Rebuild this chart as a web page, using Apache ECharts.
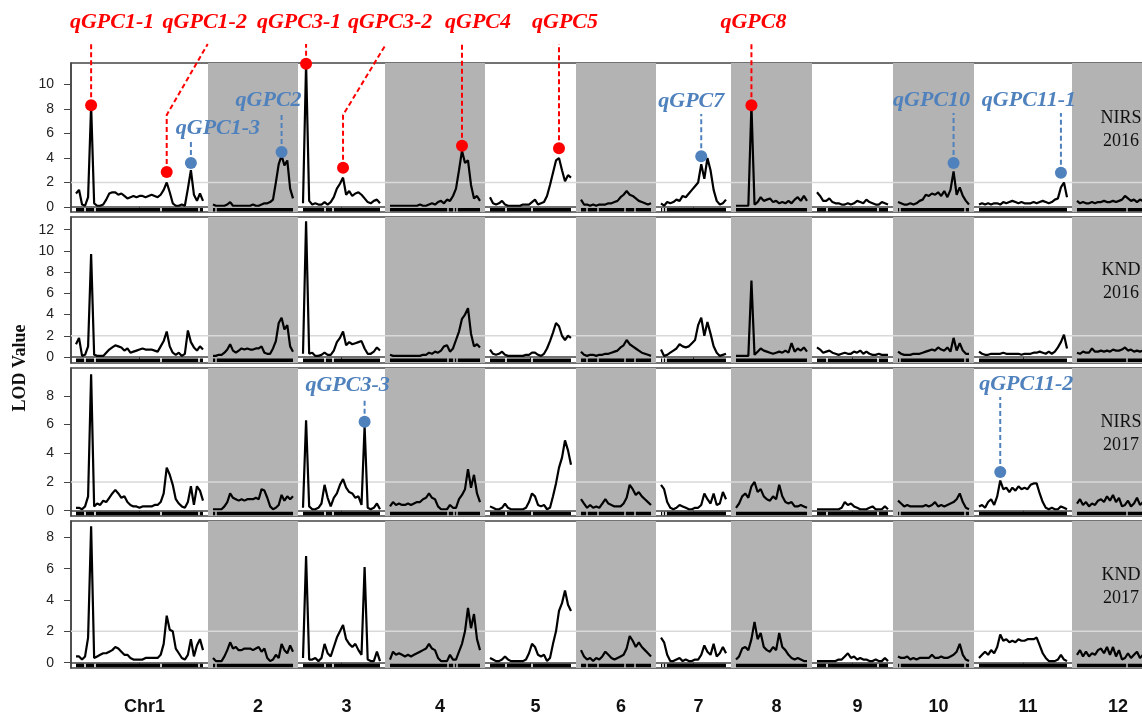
<!DOCTYPE html>
<html lang="en">
<head>
<meta charset="UTF-8">
<title>GPC QTL LOD profile</title>
<script src="https://cdn.jsdelivr.net/npm/echarts@6/dist/echarts.min.js"></script>
<style>
  html, body { margin: 0; padding: 0; background: #fff; }
  #main { width: 1142px; height: 718px; }
</style>
</head>
<body>
<div id="main"></div>
<script>
// linkage groups (span of markers, cM) and their axis labels
var chrNames = ['Chr1', '2', '3', '4', '5', '6', '7', '8', '9', '10', '11', '12'];
var chrLength = [127, 80, 77, 90, 81, 70, 65, 71, 71, 71, 88, 72];
var chrGap = 10;
// marker-free stretches inside each chromosome (cM from chromosome start)
var rugBreaks = [[9, 19, 85, 123], [3], [22, 30], [58, 64, 67], [16, 42], [6, 17, 44, 54],
                 [2, 5], [], [10, 61], [2, 67], [], [50]];

// environments, one panel each
var envNames = ['NIRS\n2016', 'KND\n2016', 'NIRS\n2017', 'KND\n2017'];
var lodMin = [-0.41, -0.57, -0.37, -0.34];
var lodMax = [11.76, 13.2, 9.94, 9.04];
var lodTicks = [[0, 2, 4, 6, 8, 10], [0, 2, 4, 6, 8, 10, 12], [0, 2, 4, 6, 8], [0, 2, 4, 6, 8]];
var lodThreshold = 2;

// LOD scan, one list per chromosome, markers evenly spread over the chromosome
var lodNirs2016 = [
  [1.1,1.4,0.2,0.1,0.8,8.3,0.3,0.1,0.1,0.2,0.6,1.1,1.2,1.2,1.0,1.1,0.9,0.7,0.8,0.9,0.8,0.9,0.9,0.8,0.9,1.0,0.9,0.8,1.0,1.4,2.0,1.2,0.3,0.1,0.1,0.2,0.1,1.5,3.0,1.0,0.5,1.1,0.5],
  [0.2,0.1,0.1,0.1,0.1,0.2,0.4,0.1,0.1,0.1,0.1,0.1,0.1,0.1,0.2,0.1,0.1,0.2,0.3,0.3,0.4,0.6,2.0,3.5,4.2,3.4,3.8,1.5,0.7],
  [0.3,11.7,0.5,0.2,0.3,0.2,0.2,0.4,0.2,0.4,0.8,1.5,1.9,2.4,1.0,1.3,0.9,1.1,1.2,1.0,0.7,0.4,0.3,0.5,0.6,0.3],
  [0.1,0.1,0.1,0.1,0.1,0.1,0.1,0.1,0.1,0.1,0.2,0.1,0.1,0.2,0.3,0.2,0.4,0.5,0.3,0.6,0.5,0.9,1.5,3.0,4.6,3.6,3.8,1.8,0.7,0.9,0.5],
  [0.8,0.3,0.2,0.3,0.5,0.2,0.1,0.1,0.1,0.1,0.1,0.2,0.2,0.2,0.4,0.6,0.2,0.3,0.4,0.9,1.8,2.8,3.8,4.0,3.0,2.1,2.6,2.4],
  [0.6,0.2,0.2,0.1,0.2,0.1,0.2,0.2,0.2,0.3,0.3,0.4,0.5,0.8,1.0,1.3,1.0,0.9,0.7,0.5,0.4,0.3,0.2,0.3],
  [0.3,0.1,0.4,0.3,0.4,0.6,0.5,0.9,0.8,1.1,1.4,1.7,2.0,3.5,2.3,4.0,3.0,1.4,0.5,0.2,0.3,0.6],
  [0.1,0.1,0.1,0.1,0.1,8.3,0.2,0.4,0.8,0.5,0.6,0.7,0.4,0.5,0.3,0.4,0.3,0.5,0.3,0.6,0.8,0.5,0.9,0.5],
  [1.2,0.9,0.5,0.5,0.7,0.4,0.3,0.3,0.2,0.2,0.3,0.2,0.3,0.5,0.4,0.3,0.6,0.4,0.3,0.2,0.2,0.4,0.3,0.2],
  [0.4,0.3,0.2,0.2,0.3,0.2,0.3,0.5,0.6,1.0,0.9,1.1,1.0,1.2,0.9,1.3,0.8,1.4,2.9,1.0,1.6,0.9,0.5,0.2],
  [0.2,0.3,0.2,0.3,0.2,0.3,0.3,0.2,0.4,0.3,0.4,0.5,0.4,0.3,0.4,0.3,0.3,0.3,0.4,0.3,0.4,0.5,0.4,0.3,0.4,0.6,0.7,1.6,2.0,0.8],
  [0.5,0.3,0.4,0.3,0.3,0.4,0.3,0.4,0.4,0.5,0.4,0.4,0.5,0.4,0.5,0.6,0.9,0.7,0.5,0.6,0.4,0.6,0.5,0.4,0.4]
];
var lodKnd2016 = [
  [1.2,1.8,0.1,0.2,1.0,9.7,0.2,0.1,0.1,0.1,0.4,0.7,0.9,1.1,1.0,0.9,0.6,0.8,0.4,0.5,0.6,0.7,0.8,0.7,0.7,0.7,0.6,0.5,1.0,1.5,2.4,1.0,0.4,0.2,0.4,0.1,0.3,2.5,1.4,0.9,0.6,1.0,0.7],
  [0.1,0.1,0.2,0.2,0.4,0.7,1.2,0.6,0.4,0.6,0.8,0.7,0.8,0.7,0.7,0.8,0.8,1.0,0.4,0.3,0.3,0.8,1.5,3.2,3.7,2.6,3.0,1.0,0.5],
  [0.3,12.8,0.3,0.4,0.1,0.1,0.2,0.4,0.2,0.2,0.6,1.4,1.8,2.4,1.1,1.4,1.2,1.3,1.4,1.5,0.8,0.3,0.3,0.5,0.9,0.6],
  [0.2,0.1,0.1,0.1,0.1,0.1,0.1,0.1,0.1,0.1,0.1,0.2,0.2,0.4,0.3,0.5,0.4,0.6,1.0,1.1,0.5,0.8,1.6,2.4,3.6,4.0,4.6,2.2,1.0,1.2,0.9],
  [0.7,0.3,0.2,0.3,0.5,0.2,0.1,0.1,0.1,0.1,0.1,0.1,0.2,0.2,0.4,0.4,0.2,0.1,0.3,0.8,1.5,2.3,3.2,2.9,2.0,1.6,2.0,1.8],
  [0.5,0.2,0.1,0.2,0.2,0.1,0.2,0.2,0.3,0.3,0.4,0.5,0.6,0.9,1.1,1.6,1.2,1.0,0.8,0.6,0.4,0.3,0.2,0.1],
  [0.7,0.1,0.2,0.4,0.6,0.8,1.2,1.0,0.9,1.0,1.3,1.6,3.0,3.7,2.0,3.3,2.2,1.0,0.4,0.1,0.2,0.3],
  [0.1,0.1,0.1,0.1,0.1,7.2,0.2,0.5,0.8,0.6,0.5,0.4,0.3,0.4,0.5,0.4,0.6,0.4,1.3,0.5,0.8,0.6,0.9,0.5],
  [0.9,0.7,0.4,0.5,0.6,0.4,0.3,0.2,0.3,0.4,0.3,0.3,0.5,0.4,0.6,0.3,0.5,0.3,0.2,0.2,0.3,0.2,0.2,0.2],
  [0.5,0.3,0.2,0.2,0.2,0.3,0.3,0.3,0.4,0.5,0.6,0.7,0.6,0.9,0.7,0.6,0.9,0.5,1.8,0.6,1.3,0.6,0.3,0.3],
  [0.5,0.3,0.2,0.2,0.3,0.3,0.3,0.3,0.4,0.3,0.3,0.3,0.3,0.3,0.2,0.3,0.3,0.3,0.4,0.4,0.5,0.4,0.3,0.5,0.3,0.5,0.9,1.4,2.1,0.8],
  [0.4,0.3,0.5,0.4,0.4,0.8,0.5,0.5,0.6,0.5,0.6,0.5,0.7,0.6,0.6,0.7,0.9,0.6,0.7,0.5,0.6,0.5,0.6,0.5,0.4]
];
var lodNirs2017 = [
  [0.2,0.2,0.1,0.3,1.0,9.5,0.3,0.5,0.4,0.7,0.6,0.9,1.2,1.45,1.2,0.9,1.0,0.6,0.4,0.3,0.3,0.2,0.3,0.3,0.3,0.3,0.4,0.4,0.6,1.2,3.0,2.5,1.8,0.8,0.5,0.3,0.2,0.6,1.7,0.4,1.7,1.4,0.7],
  [0.1,0.1,0.1,0.1,0.3,0.6,1.2,0.9,0.8,0.7,0.8,0.7,0.8,0.8,0.8,0.9,0.8,1.5,1.4,0.9,0.3,0.1,0.2,0.4,1.1,0.7,1.0,0.8,1.0],
  [0.2,6.3,0.3,0.1,0.1,0.2,0.5,1.8,0.9,0.3,0.9,1.2,1.8,2.2,1.6,1.3,1.2,0.9,1.0,0.4,5.9,0.2,0.1,0.2,0.5,0.1],
  [0.3,0.6,0.4,0.5,0.4,0.4,0.5,0.4,0.5,0.6,0.6,0.8,0.9,1.2,0.9,0.8,0.3,0.1,0.1,0.1,0.4,0.2,0.2,0.8,1.1,1.5,2.9,1.6,2.5,1.2,0.6],
  [0.3,0.2,0.1,0.1,0.2,0.5,0.2,0.1,0.1,0.1,0.1,0.1,0.2,0.6,1.2,1.0,0.4,0.3,0.4,0.1,0.2,1.0,1.9,3.0,3.7,4.9,4.2,3.2],
  [0.8,0.5,0.2,0.4,0.2,0.3,0.2,0.5,0.8,0.5,0.4,0.3,0.3,0.3,0.5,0.9,1.8,1.5,1.1,1.3,1.0,0.8,0.6,0.4],
  [1.8,1.5,0.6,0.2,0.1,0.2,0.4,0.3,0.2,0.1,0.1,0.2,0.2,0.4,1.2,0.8,0.5,1.2,0.4,0.5,1.3,0.8],
  [0.2,0.5,1.0,1.2,0.9,1.7,2.0,1.3,1.5,1.0,0.8,0.7,1.0,0.8,1.8,1.0,0.6,0.5,0.6,0.3,0.3,0.4,0.3,0.2],
  [0.1,0.1,0.1,0.1,0.1,0.1,0.1,0.1,0.2,0.6,0.4,0.5,0.3,0.2,0.1,0.1,0.1,0.2,0.3,0.1,0.1,0.1,0.3,0.1],
  [0.7,0.5,0.3,0.4,0.3,0.3,0.3,0.3,0.3,0.4,0.3,0.4,0.6,0.3,0.4,0.3,0.4,0.5,0.6,0.8,1.2,0.6,0.2,0.1],
  [0.3,0.4,0.2,0.6,0.8,0.4,1.0,2.1,1.5,1.6,1.3,1.6,1.4,1.7,1.5,1.6,1.5,1.8,1.9,1.9,1.2,0.6,0.2,0.1,0.2,0.1,0.1,0.3,0.2,0.1],
  [0.5,0.8,0.4,0.6,0.3,0.5,0.4,0.7,0.8,0.6,1.0,0.7,1.1,0.6,0.9,0.3,0.4,0.7,0.3,0.5,0.9,0.4,0.6,0.3,0.5]
];
var lodKnd2017 = [
  [0.4,0.4,0.2,0.4,1.6,8.7,0.3,0.4,0.5,0.6,0.6,0.7,0.8,1.0,0.9,0.7,0.5,0.5,0.3,0.2,0.2,0.2,0.2,0.3,0.3,0.3,0.3,0.3,0.5,1.2,3.0,2.1,2.0,0.9,0.6,0.3,0.2,0.5,1.5,0.4,1.1,1.5,0.8],
  [0.3,0.1,0.1,0.1,0.4,0.8,1.3,0.9,1.0,0.8,0.8,0.9,0.9,0.9,0.8,0.9,1.0,0.7,0.9,0.3,0.1,0.2,0.5,0.3,1.2,0.8,0.6,1.1,0.7],
  [0.3,6.8,0.2,0.2,0.3,0.1,0.3,1.2,0.6,0.4,1.0,1.6,2.0,2.4,1.5,1.2,1.0,1.2,0.8,0.5,6.1,0.2,0.1,0.1,0.7,0.1],
  [0.2,0.7,0.5,0.6,0.5,0.4,0.5,0.4,0.5,0.6,0.7,0.8,0.9,1.2,0.9,0.8,0.3,0.1,0.1,0.1,0.5,0.2,0.2,0.7,1.2,2.0,3.5,2.2,3.1,1.5,0.8],
  [0.3,0.2,0.1,0.1,0.2,0.4,0.2,0.1,0.1,0.1,0.1,0.1,0.2,0.6,1.2,1.0,0.5,0.4,0.5,0.1,0.3,1.2,2.0,3.3,3.8,4.6,3.7,3.3],
  [0.8,0.4,0.2,0.3,0.1,0.3,0.2,0.4,0.7,0.5,0.3,0.2,0.3,0.4,0.5,0.9,1.7,1.4,1.0,1.3,1.0,0.8,0.6,0.4],
  [1.6,1.3,0.5,0.1,0.1,0.2,0.3,0.1,0.2,0.1,0.1,0.2,0.2,0.5,1.1,0.7,0.5,1.2,0.4,0.6,1.0,0.6],
  [0.2,0.4,0.9,1.0,0.8,1.5,2.6,1.5,1.9,1.0,0.8,0.7,1.0,0.8,1.9,1.0,0.8,0.5,0.3,0.2,0.3,0.2,0.1,0.1],
  [0.1,0.1,0.1,0.1,0.1,0.1,0.1,0.2,0.2,0.4,0.6,0.3,0.4,0.2,0.3,0.2,0.2,0.1,0.1,0.2,0.1,0.1,0.3,0.1],
  [0.4,0.3,0.3,0.4,0.2,0.3,0.2,0.3,0.3,0.3,0.3,0.5,0.3,0.3,0.4,0.3,0.3,0.4,0.5,0.7,1.2,0.5,0.2,0.1],
  [0.3,0.5,0.7,0.5,0.8,0.6,1.0,1.8,1.4,1.5,1.3,1.4,1.3,1.5,1.4,1.4,1.5,1.5,1.5,1.6,1.1,0.6,0.3,0.1,0.1,0.1,0.2,0.5,0.2,0.1],
  [0.5,0.8,0.4,0.7,0.4,0.6,0.5,0.8,0.9,0.6,1.0,0.5,1.0,0.4,0.8,0.2,0.3,0.6,0.3,0.5,0.7,0.3,0.5,0.4,0.3]
];
var lodPanels = [lodNirs2016, lodKnd2016, lodNirs2017, lodKnd2017];

// QTL: panel, chromosome, marker index on that chromosome, LOD of the dot, major (red) or not
var qtlName   = ['qGPC1-1','qGPC1-2','qGPC1-3','qGPC2','qGPC3-1','qGPC3-2','qGPC4','qGPC5','qGPC7','qGPC8','qGPC10','qGPC11-1','qGPC3-3','qGPC11-2'];
var qtlEnv    = [0, 0, 0, 0, 0, 0, 0, 0, 0, 0, 0, 0, 2, 2];
var qtlChr    = [1, 1, 1, 2, 3, 3, 4, 5, 7, 8, 10, 11, 3, 11];
var qtlMarker = [5, 30, 38, 24, 1, 13, 24, 23, 13, 5, 18, 27, 20, 7];
var qtlLod    = [8.3, 2.85, 3.6, 4.5, 11.7, 3.2, 5.0, 4.8, 4.15, 8.3, 3.6, 2.8, 6.2, 2.7];
var qtlMajor  = [1, 1, 0, 0, 1, 1, 1, 1, 0, 1, 0, 0, 0, 0];

// where the QTL names sit relative to their dots (px)
var labelLayout = {
  'qGPC1-1': {dx: 21}, 'qGPC1-2': {dx: 38, bend: 41}, 'qGPC3-1': {dx: -7},
  'qGPC3-2': {dx: 47, bend: 43}, 'qGPC4': {dx: 16}, 'qGPC5': {dx: 6}, 'qGPC8': {dx: 2},
  'qGPC1-3': {dx: 27, y: 128}, 'qGPC2': {dx: -13, y: 100}, 'qGPC7': {dx: -10, y: 101},
  'qGPC10': {dx: -22, y: 100}, 'qGPC11-1': {dx: -32, y: 100},
  'qGPC3-3': {dx: -17, y: 385}, 'qGPC11-2': {dx: 26, y: 384}
};

var RED = '#ff0000', BLUE = '#4f81bd', GRAY = '#b3b3b3';
var panelTop = [63, 217, 368, 521];
var panelHeight = [149, 146, 148, 147];

// cumulative map positions
var chrStart = [], chrCenter = [];
var pos = chrGap / 2;
chrLength.forEach(function (len) {
  chrStart.push(pos);
  chrCenter.push(pos + len / 2);
  pos += len + chrGap;
});
var xMax = pos - chrGap / 2;

function markerPos(c, i, n) {
  return chrStart[c] + chrLength[c] * i / (n - 1);
}

function curveData(p) {
  var out = [];
  lodPanels[p].forEach(function (vals, c) {
    vals.forEach(function (v, i) { out.push([markerPos(c, i, vals.length), v]); });
    out.push([chrStart[c] + chrLength[c] + chrGap / 2, '-']);
  });
  return out;
}

function rugData(p) {
  var y = lodMin[p] * 0.55, out = [];
  chrStart.forEach(function (s, c) {
    out.push([s, y]);
    rugBreaks[c].forEach(function (b) {
      out.push([s + b - 0.8, y], [s + b, '-'], [s + b + 0.8, y]);
    });
    out.push([s + chrLength[c], y], [s + chrLength[c] + 1, '-']);
  });
  return out;
}

var bands = [];
chrStart.forEach(function (s, c) {
  if (c % 2 === 1) bands.push([{xAxis: s - chrGap / 2}, {xAxis: s + chrLength[c] + chrGap / 2}]);
});

var grids = [], xAxes = [], yAxes = [], series = [];
for (var p = 0; p < 4; p++) {
  grids.push({left: 71, top: panelTop[p], width: xMax, height: panelHeight[p],
    outerBoundsMode: 'none', containLabel: false,
    show: true, borderColor: '#444', borderWidth: 1.5, backgroundColor: 'transparent'});
  xAxes.push({
    gridIndex: p, type: 'value', min: 0, max: xMax,
    axisLine: {show: true, lineStyle: {color: '#444', width: 1.5}},
    axisTick: {show: true, customValues: chrCenter, length: 4, lineStyle: {color: '#444'}},
    axisLabel: p === 3 ? {
      show: true, customValues: chrCenter, margin: 30, padding: [0, 0, 0, 10],
      fontSize: 18, fontWeight: 'bold', fontFamily: 'Liberation Sans', color: '#111',
      formatter: function (v) {
        for (var k = 0; k < chrCenter.length; k++) if (Math.abs(chrCenter[k] - v) < 0.5) return chrNames[k];
        return '';
      }
    } : {show: false},
    splitLine: {show: false}
  });
  yAxes.push({
    gridIndex: p, type: 'value', min: lodMin[p], max: lodMax[p],
    axisLine: {show: true, lineStyle: {color: '#444', width: 1.5}},
    axisTick: {show: true, customValues: lodTicks[p], length: 7, lineStyle: {color: '#444'}},
    axisLabel: {customValues: lodTicks[p], fontSize: 14, color: '#222', fontFamily: 'Liberation Sans', margin: 17},
    splitLine: {show: false}
  });
  series.push({
    type: 'line', xAxisIndex: p, yAxisIndex: p, z: 1, silent: true,
    data: [[0, lodMin[p]]], symbol: 'none', lineStyle: {opacity: 0},
    markArea: {silent: true, itemStyle: {color: GRAY}, label: {show: false}, data: bands}
  });
  series.push({
    type: 'line', xAxisIndex: p, yAxisIndex: p, z: 2, silent: true, symbol: 'none',
    data: [[0, lodThreshold], [xMax, lodThreshold]],
    lineStyle: {color: '#d9d9d9', width: 1.5}
  });
  series.push({
    type: 'line', xAxisIndex: p, yAxisIndex: p, z: 3, silent: true, symbol: 'none',
    data: rugData(p), connectNulls: false,
    lineStyle: {color: '#000', width: 3.5, cap: 'butt'}
  });
  series.push({
    type: 'line', xAxisIndex: p, yAxisIndex: p, z: 4, silent: true, symbol: 'none',
    data: curveData(p), connectNulls: false,
    lineStyle: {color: '#000', width: 2.2}
  });
  var dots = [];
  qtlName.forEach(function (name, k) {
    if (qtlEnv[k] !== p) return;
    var c = qtlChr[k] - 1;
    dots.push({
      value: [markerPos(c, qtlMarker[k], lodPanels[p][c].length), qtlLod[k]],
      itemStyle: {color: qtlMajor[k] ? RED : BLUE, opacity: 1}
    });
  });
  if (dots.length) {
    series.push({
      type: 'scatter', xAxisIndex: p, yAxisIndex: p, z: 10, silent: true,
      symbolSize: 12, data: dots, clip: false, itemStyle: {opacity: 1}
    });
  }
}

var chart = echarts.init(document.getElementById('main'));
chart.setOption({
  animation: false,
  backgroundColor: '#fff',
  grid: grids, xAxis: xAxes, yAxis: yAxes, series: series
});

// leader lines, QTL names and panel captions
var graphics = [];
qtlName.forEach(function (name, k) {
  var p = qtlEnv[k], c = qtlChr[k] - 1;
  var pt = chart.convertToPixel({gridIndex: p},
    [markerPos(c, qtlMarker[k], lodPanels[p][c].length), qtlLod[k]]);
  var lay = labelLayout[name];
  var color = qtlMajor[k] ? RED : BLUE;
  var pts, tx, ty;
  if (qtlMajor[k]) {
    pts = lay.bend ? [[pt[0], pt[1]], [pt[0], 115], [pt[0] + lay.bend, 44]] : [[pt[0], pt[1]], [pt[0], 44]];
    tx = pt[0] + lay.dx; ty = 22;
  } else {
    pts = [[pt[0], pt[1]], [pt[0], lay.y + 13]];
    tx = pt[0] + lay.dx; ty = lay.y;
  }
  graphics.push({
    type: 'polyline', z: 5, silent: true, shape: {points: pts},
    style: {stroke: color, lineWidth: 2, lineDash: [5, 3], fill: null}
  });
  graphics.push({
    type: 'text', z: 11, silent: true, x: tx, y: ty,
    style: {text: name, fill: color, fontSize: 22, fontStyle: 'italic', fontWeight: 'bold',
      fontFamily: 'Liberation Serif', align: 'center', verticalAlign: 'middle'}
  });
});
envNames.forEach(function (env, p) {
  graphics.push({
    type: 'text', z: 11, silent: true, x: 1121, y: panelTop[p] + panelHeight[p] * 0.445,
    style: {text: env, fill: '#111', fontSize: 18, fontFamily: 'Liberation Serif',
      lineHeight: 23, align: 'center', verticalAlign: 'middle'}
  });
});
graphics.push({
  type: 'text', z: 11, silent: true, x: 20, y: 368, rotation: Math.PI / 2,
  style: {text: 'LOD Value', fill: '#111', fontSize: 18, fontWeight: 'bold',
    fontFamily: 'Liberation Serif', align: 'center', verticalAlign: 'middle'}
});
chart.setOption({graphic: graphics});
</script>
</body>
</html>
